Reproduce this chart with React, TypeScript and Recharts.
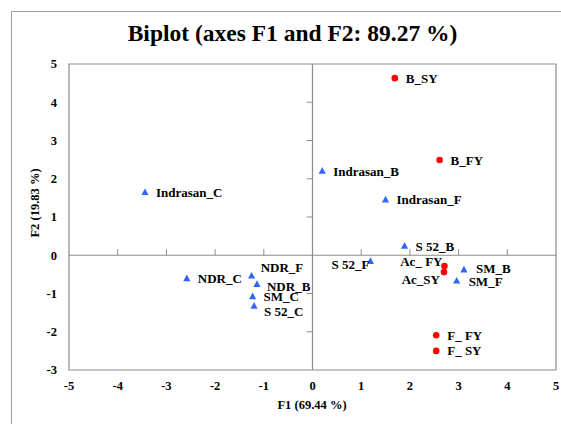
import React from 'react';
import {
  ScatterChart,
  Scatter,
  XAxis,
  YAxis,
  ReferenceArea,
  ReferenceLine,
} from 'recharts';

// observations (red dots)
const obsNames = ['B_SY', 'B_FY', 'Ac_ FY', 'Ac_SY', 'F_ FY', 'F_ SY'];
const obsF1 = [1.69, 2.61, 2.71, 2.7, 2.54, 2.54];
const obsF2 = [4.63, 2.49, -0.28, -0.44, -2.09, -2.5];

// variables (blue triangles)
const varNames = [
  'Indrasan_C', 'Indrasan_B', 'Indrasan_F', 'NDR_C', 'NDR_F', 'NDR_B',
  'SM_C', 'S 52_C', 'S 52_B', 'S 52_F', 'SM_B', 'SM_F',
];
const varF1 = [-3.44, 0.2, 1.5, -2.58, -1.25, -1.14, -1.23, -1.2, 1.89, 1.19, 3.11, 2.96];
const varF2 = [1.64, 2.2, 1.45, -0.61, -0.54, -0.76, -1.08, -1.33, 0.24, -0.16, -0.38, -0.67];

const xTicks = [-5, -4, -3, -2, -1, 0, 1, 2, 3, 4, 5];
const yTicks = [-3, -2, -1, 0, 1, 2, 3, 4, 5];

const FONT = '"Liberation Serif", "Times New Roman", serif';
const RED = '#FF0000';
const BLUE = '#3366FF';
const AXIS = '#8c8c8c';

// label placement tweaks (pixels)
const labelPos: Record<string, { dx: number; dy: number; anchor: 'start' | 'end' }> = {
  'NDR_F': { dx: 9, dy: -8, anchor: 'start' },
  'NDR_B': { dx: 10, dy: 2, anchor: 'start' },
  'S 52_C': { dx: 10, dy: 5, anchor: 'start' },
  'Ac_ FY': { dx: -2, dy: -5, anchor: 'end' },
  'Ac_SY': { dx: -4, dy: 7, anchor: 'end' },
  'S 52_F': { dx: -1, dy: 3, anchor: 'end' },
  'SM_B': { dx: 12, dy: -1, anchor: 'start' },
  'SM_F': { dx: 12, dy: 1, anchor: 'start' },
};

const obsData = obsNames.map((name, i) => ({ name, x: obsF1[i], y: obsF2[i] }));
const varData = varNames.map((name, i) => ({ name, x: varF1[i], y: varF2[i] }));

const textStyle = { fontFamily: FONT, fontWeight: 700 };

const PointLabel = ({ cx, cy, name }: { cx: number; cy: number; name: string }) => {
  const p = labelPos[name] || { dx: 11, dy: 0, anchor: 'start' };
  return (
    <text
      x={cx + p.dx}
      y={cy + p.dy}
      dy="0.35em"
      textAnchor={p.anchor}
      style={{ ...textStyle, fontSize: 13 }}
      fill="#000"
    >
      {name}
    </text>
  );
};

const DotShape = (props: any) => {
  const { cx, cy, payload } = props;
  return (
    <g>
      <circle cx={cx} cy={cy} r={3.3} fill={RED} />
      <PointLabel cx={cx} cy={cy} name={payload.name} />
    </g>
  );
};

const TriShape = (props: any) => {
  const { cx, cy, payload } = props;
  return (
    <g>
      <polygon
        points={`${cx},${cy - 4} ${cx + 3.6},${cy + 2.6} ${cx - 3.6},${cy + 2.6}`}
        fill={BLUE}
      />
      <PointLabel cx={cx} cy={cy} name={payload.name} />
    </g>
  );
};

const XTick = (props: any) => {
  const { x, y, payload } = props;
  return (
    <text x={x} y={y} dy="0.71em" textAnchor="middle" fill="#000" style={{ ...textStyle, fontSize: 12.5 }}>
      {payload.value}
    </text>
  );
};

const YTick = (props: any) => {
  const { x, y, payload } = props;
  return (
    <text x={x} y={y} dy="0.35em" textAnchor="end" fill="#000" style={{ ...textStyle, fontSize: 12.5 }}>
      {payload.value}
    </text>
  );
};

const App = () => {
  return (
    <div style={{ position: 'absolute', left: 0, top: 0, width: 561, height: 424, background: '#fff', overflow: 'hidden' }}>
      <div
        style={{
          position: 'absolute', left: 11, top: 11, width: 550, height: 413,
          borderLeft: '1px solid #a0a0a0', borderTop: '1px solid #a0a0a0',
        }}
      />
      <div
        style={{
          position: 'absolute', left: 0, top: 19, width: 585, textAlign: 'center',
          fontFamily: FONT, fontWeight: 'bold', fontSize: 23.5, lineHeight: '28px',
        }}
      >
        Biplot (axes F1 and F2: 89.27 %)
      </div>
      <div
        style={{
          position: 'absolute', left: 35, top: 203, width: 0, height: 0,
        }}
      >
        <div
          style={{
            position: 'absolute', left: -50, top: -8, width: 100, textAlign: 'center',
            transform: 'rotate(-90deg)', fontFamily: FONT, fontWeight: 'bold', fontSize: 12.5,
            lineHeight: '16px', whiteSpace: 'nowrap',
          }}
        >
          F2 (19.83 %)
        </div>
      </div>
      <div
        style={{
          position: 'absolute', left: 262, top: 397, width: 100, textAlign: 'center',
          fontFamily: FONT, fontWeight: 'bold', fontSize: 12.5, lineHeight: '16px',
        }}
      >
        F1 (69.44 %)
      </div>
      <div style={{ position: 'absolute', left: 0, top: 0 }}>
        <ScatterChart width={561} height={424} margin={{ top: 64, right: 5, bottom: 24, left: 11 }}>
          <XAxis
            type="number"
            dataKey="x"
            domain={[-5, 5]}
            ticks={xTicks}
            axisLine={false}
            tickLine={false}
            tick={<XTick />}
            tickMargin={5}
            height={30}
            allowDataOverflow
          />
          <YAxis
            type="number"
            dataKey="y"
            domain={[-3, 5]}
            ticks={yTicks}
            axisLine={false}
            tickLine={false}
            tick={<YTick />}
            tickMargin={6}
            width={58}
            allowDataOverflow
          />
          <ReferenceArea x1={-5} x2={5} y1={-3} y2={5} fill="none" stroke={AXIS} strokeWidth={1.2} />
          <ReferenceLine y={0} stroke={AXIS} strokeWidth={1.2} />
          <ReferenceLine x={0} stroke={AXIS} strokeWidth={1.2} />
          {xTicks.filter((t) => t !== 0 && Math.abs(t) !== 5).map((t) => (
            <ReferenceLine
              key={`xt${t}`}
              segment={[{ x: t, y: 0 }, { x: t, y: 0.16 }]}
              stroke={AXIS}
              strokeWidth={1}
            />
          ))}
          {yTicks.filter((t) => t !== 0 && t !== -3 && t !== 5).map((t) => (
            <ReferenceLine
              key={`yt${t}`}
              segment={[{ x: -0.12, y: t }, { x: 0, y: t }]}
              stroke={AXIS}
              strokeWidth={1}
            />
          ))}
          <Scatter data={varData} shape={TriShape} isAnimationActive={false} />
          <Scatter data={obsData} shape={DotShape} isAnimationActive={false} />
        </ScatterChart>
      </div>
    </div>
  );
};

export default App;
